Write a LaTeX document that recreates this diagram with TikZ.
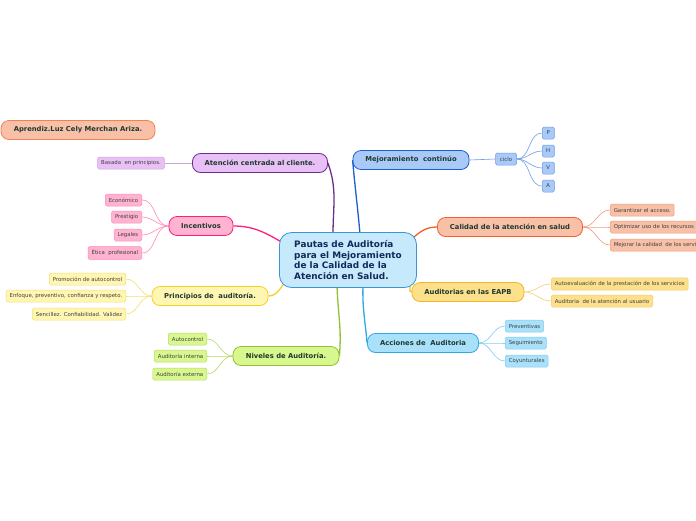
\documentclass[tikz,border=0pt]{standalone}
\usepackage{fontspec}
\setmainfont{DejaVu Sans}
\usetikzlibrary{positioning,calc,backgrounds}

\definecolor{txtdark}{HTML}{1F3A2E}
\definecolor{ctrfill}{HTML}{C6EAFB}
\definecolor{ctrline}{HTML}{3D93D6}
\definecolor{ctrtext}{HTML}{14285A}
\definecolor{purpfill}{HTML}{E8C0F6}
\definecolor{purpline}{HTML}{6B2C8E}
\definecolor{purpleaf}{HTML}{C8A5DC}
\definecolor{pinkfill}{HTML}{FFB3D1}
\definecolor{pinkline}{HTML}{FF1F7C}
\definecolor{pinkleaf}{HTML}{FF8AB8}
\definecolor{yelfill}{HTML}{FFF6B3}
\definecolor{yelline}{HTML}{F2D22A}
\definecolor{yelleaf}{HTML}{F5E070}
\definecolor{grnfill}{HTML}{D9F78F}
\definecolor{grnline}{HTML}{8FC233}
\definecolor{grnleaf}{HTML}{B5DD60}
\definecolor{bluefill}{HTML}{A9C9F8}
\definecolor{blueline}{HTML}{1F5FCC}
\definecolor{blueleaf}{HTML}{6E9BEA}
\definecolor{salfill}{HTML}{F9C0A8}
\definecolor{salline}{HTML}{F0612C}
\definecolor{salleaf}{HTML}{F59A78}
\definecolor{goldfill}{HTML}{FDE08C}
\definecolor{goldline}{HTML}{F2B925}
\definecolor{goldleaf}{HTML}{F5CD70}
\definecolor{cyanfill}{HTML}{A9E1FA}
\definecolor{cyanline}{HTML}{2FA9E2}
\definecolor{cyanleaf}{HTML}{80CFF0}

\begin{document}
\begin{tikzpicture}[x=1pt, y=-1pt,
  topic/.style={draw=ctrline, fill=ctrfill, rounded corners=12pt, line width=0.8pt, align=left, text=ctrtext,
    font=\bfseries\fontsize{8.9}{10.9}\selectfont, minimum width=137pt, minimum height=55pt},
  branch/.style={draw, rounded corners=8pt, line width=0.8pt, text=txtdark,
    font=\bfseries\fontsize{6.8}{8}\selectfont, minimum height=19pt},
  leaf/.style={draw, rounded corners=1.5pt, line width=0.5pt, text=black!75,
    font=\fontsize{5.4}{6}\selectfont, minimum height=12pt, inner xsep=3.5pt},
  trunk/.style={line width=1.3pt},
  twig/.style={line width=0.6pt}]
\path[use as bounding box, clip] (0,0) rectangle (696,520);

\node (center) [topic] at (348,260) {Pautas de Auditoría\\para el Mejoramiento\\de la Calidad de la\\Atención en Salud.};

\node (author) [branch, draw=salline!80, fill=salfill, minimum width=154pt] at (78,130) {Aprendiz.Luz Cely Merchan Ariza.};

% left side
\node (atencion) [branch, draw=purpline, fill=purpfill, minimum width=135pt] at (260,163) {Atención centrada al cliente.};
\node (basada) [leaf, draw=purpleaf, fill=purpfill] at (131,163) {Basada~ en principios.};

\node (incent) [branch, draw=pinkline, fill=pinkfill, minimum width=64pt] at (201,226) {Incentivos};
\node (econ) [leaf, draw=pinkleaf, fill=pinkfill, anchor=east] at (142,200) {Económico};
\node (prest) [leaf, draw=pinkleaf, fill=pinkfill, anchor=east] at (142,217) {Prestigio};
\node (legal) [leaf, draw=pinkleaf, fill=pinkfill, anchor=east] at (142,235) {Legales};
\node (etica) [leaf, draw=pinkleaf, fill=pinkfill, anchor=east] at (142,253) {Ética~ profesional};

\node (princ) [branch, draw=yelline, fill=yelfill, minimum width=116pt] at (210,296) {Principios de~ auditoría.};
\node (promo) [leaf, draw=yelleaf, fill=yelfill, anchor=east] at (126,279) {Promoción de autocontrol};
\node (enfoq) [leaf, draw=yelleaf, fill=yelfill, anchor=east] at (126,296) {Enfoque, preventivo, confianza y respeto.};
\node (senci) [leaf, draw=yelleaf, fill=yelfill, anchor=east] at (126,314) {Sencillez. Confiabilidad. Validez};

\node (nivel) [branch, draw=grnline, fill=grnfill, minimum width=106pt] at (286,356) {Niveles de Auditoría.};
\node (autoc) [leaf, draw=grnleaf, fill=grnfill, anchor=east] at (207,339) {Autocontrol};
\node (inter) [leaf, draw=grnleaf, fill=grnfill, anchor=east] at (207,356) {Auditoría interna};
\node (exter) [leaf, draw=grnleaf, fill=grnfill, anchor=east] at (207,374) {Auditoría externa};

% right side
\node (mejora) [branch, draw=blueline, fill=bluefill, minimum width=116pt] at (411,160) {Mejoramiento~ continúo};
\node (ciclo) [leaf, draw=blueleaf, fill=bluefill, minimum width=21pt, inner xsep=2pt] at (506,159) {ciclo};
\node (p) [leaf, draw=blueleaf, fill=bluefill, minimum width=12pt, inner xsep=1pt, anchor=west] at (542,133) {P};
\node (h) [leaf, draw=blueleaf, fill=bluefill, minimum width=12pt, inner xsep=1pt, anchor=west] at (542,151) {H};
\node (v) [leaf, draw=blueleaf, fill=bluefill, minimum width=12pt, inner xsep=1pt, anchor=west] at (542,168) {V};
\node (a) [leaf, draw=blueleaf, fill=bluefill, minimum width=12pt, inner xsep=1pt, anchor=west] at (542,186) {A};

\node (calidad) [branch, draw=salline, fill=salfill, minimum width=145pt] at (510,227) {Calidad de la atención en salud};
\node (garan) [leaf, draw=salleaf, fill=salfill, anchor=west] at (610,210) {Garantizar el acceso.};
\node (optim) [leaf, draw=salleaf, fill=salfill, anchor=west] at (610,227) {Optimizar uso de los recursos};
\node (mejor) [leaf, draw=salleaf, fill=salfill, anchor=west] at (610,245) {Mejorar la calidad~ de los servicios};

\node (eapb) [branch, draw=goldline, fill=goldfill, minimum width=112pt] at (468,292) {Auditorias en las EAPB};
\node (autoev) [leaf, draw=goldleaf, fill=goldfill, anchor=west] at (551,284) {Autoevaluación de la prestación de los servicios};
\node (usuar) [leaf, draw=goldleaf, fill=goldfill, anchor=west] at (551,301) {Auditoria~ de la atención al usuario};

\node (accion) [branch, draw=cyanline, fill=cyanfill, minimum width=111pt] at (423,343) {Acciones de~ Auditoria};
\node (prev) [leaf, draw=cyanleaf, fill=cyanfill, anchor=west] at (505,326) {Preventivas};
\node (segui) [leaf, draw=cyanleaf, fill=cyanfill, anchor=west] at (505,343) {Seguimiento};
\node (coyun) [leaf, draw=cyanleaf, fill=cyanfill, anchor=west] at (505,361) {Coyunturales};

\begin{scope}[on background layer]
\fill[white] (0,0) rectangle (696,520);
% trunks
\draw[trunk, purpline] ($(center.north)+(-15,2)$) to[out=90, in=-70] (atencion.east);
\draw[trunk, pinkline] ($(center.north west)+(6,12)$) to[out=150, in=0] (incent.east);
\draw[trunk, yelline] ($(center.south west)+(8,-8)$) to[out=225, in=0] (princ.east);
\draw[trunk, grnline] ($(center.south)+(-11,-2)$) to[out=-88, in=85] (nivel.east);
\draw[trunk, blueline] ($(center.north)+(12,2)$) to[out=95, in=-85] (mejora.west);
\draw[trunk, salline] ($(center.north east)+(-6,8)$) to[out=45, in=180] (calidad.west);
\draw[trunk, goldline] ($(center.south east)+(-8,-4)$) to[out=-40, in=180] (eapb.west);
\draw[trunk, cyanline] ($(center.south)+(15,-2)$) to[out=-92, in=95] (accion.west);
% twigs
\draw[twig, purpleaf] (atencion.west) -- (basada.east);
\foreach \leafname in {econ,prest,legal,etica}
  \draw[twig, pinkleaf] (incent.west) to[out=180, in=0] (\leafname.east);
\foreach \leafname in {promo,enfoq,senci}
  \draw[twig, yelleaf] (princ.west) to[out=180, in=0] (\leafname.east);
\foreach \leafname in {autoc,inter,exter}
  \draw[twig, grnleaf] (nivel.west) to[out=180, in=0] (\leafname.east);
\draw[twig, blueleaf] (mejora.east) -- (ciclo.west);
\foreach \leafname in {p,h,v,a}
  \draw[twig, blueleaf] (ciclo.east) to[out=0, in=180] (\leafname.west);
\foreach \leafname in {garan,optim,mejor}
  \draw[twig, salleaf] (calidad.east) to[out=0, in=180] (\leafname.west);
\foreach \leafname in {autoev,usuar}
  \draw[twig, goldleaf] (eapb.east) to[out=0, in=180] (\leafname.west);
\foreach \leafname in {prev,segui,coyun}
  \draw[twig, cyanleaf] (accion.east) to[out=0, in=180] (\leafname.west);
\end{scope}
\end{tikzpicture}
\end{document}
